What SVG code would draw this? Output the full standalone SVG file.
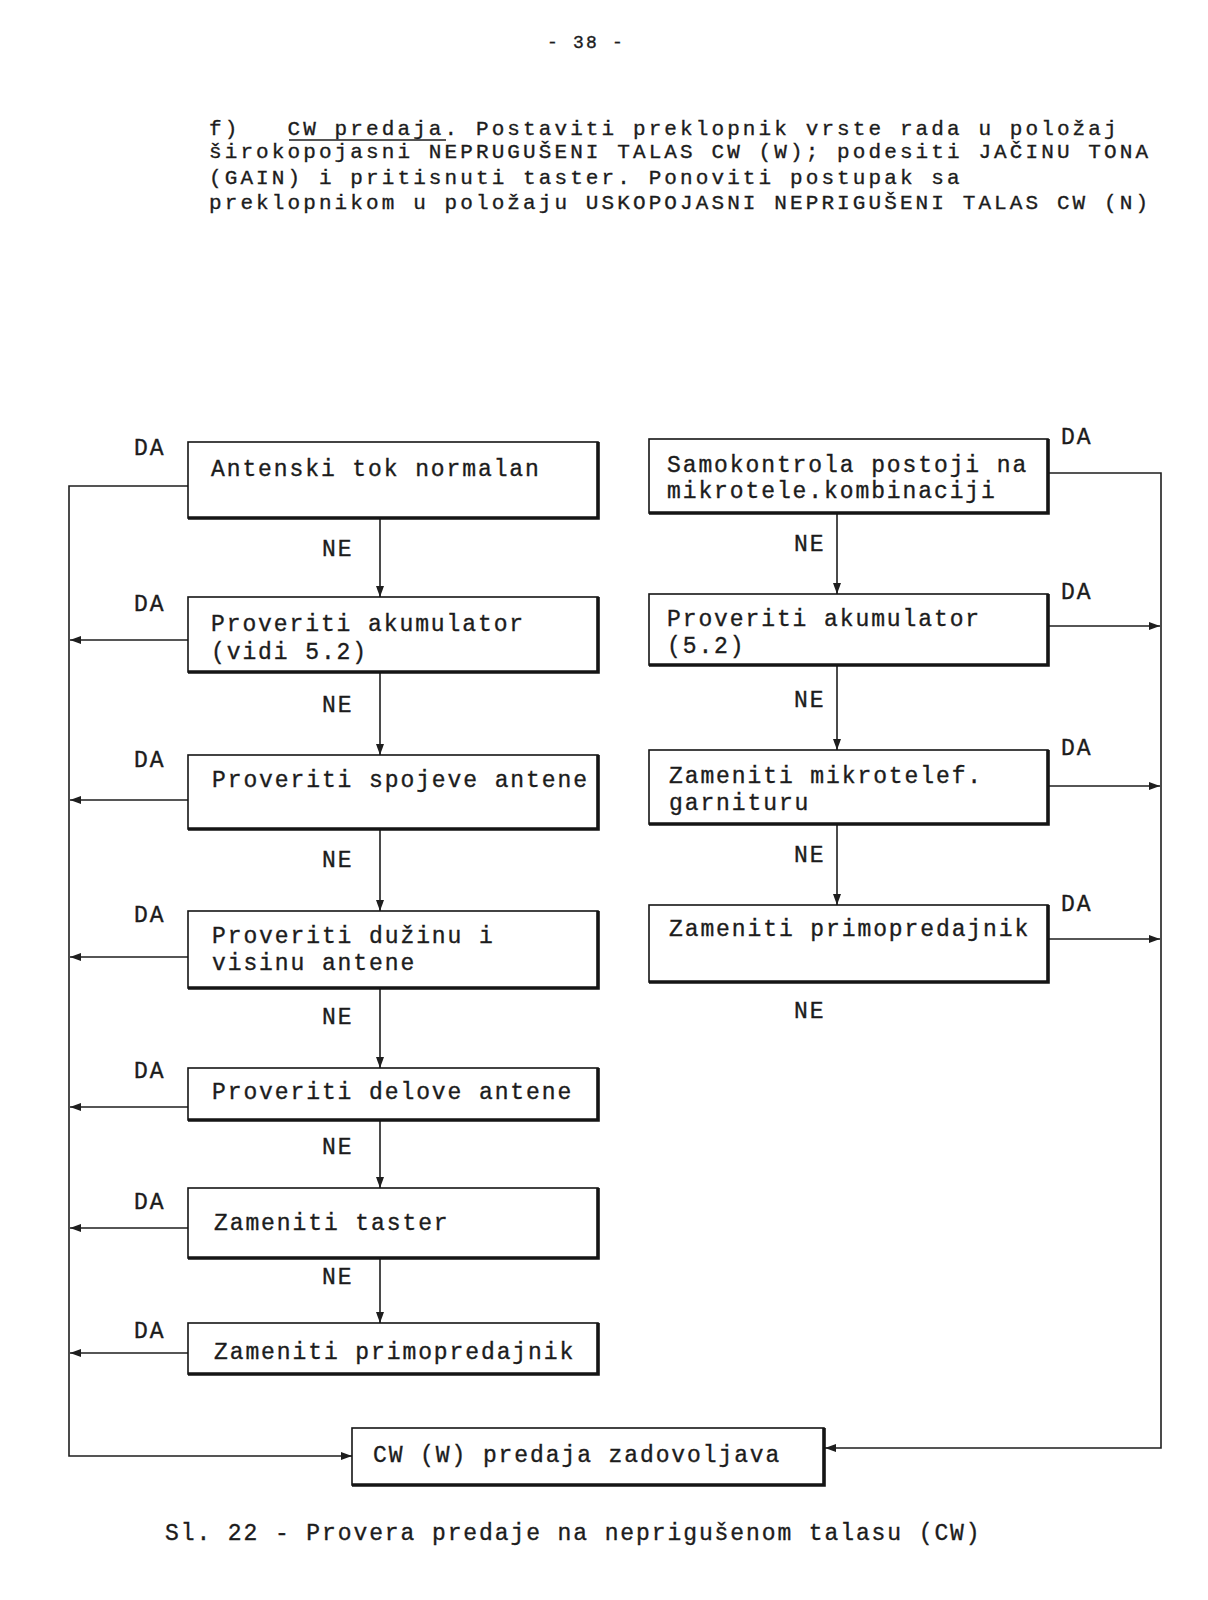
<svg xmlns="http://www.w3.org/2000/svg" width="1208" height="1600" viewBox="0 0 1208 1600">
<style>
text{font-family:"Liberation Mono","Courier New",monospace;font-size:23px;letter-spacing:1.9px;fill:#1c1c1c;stroke:#1c1c1c;stroke-width:0.35px;white-space:pre}
.pg{font-size:18px;letter-spacing:2.2px}
.par{font-size:21px;letter-spacing:3.1px}
.box{fill:none;stroke:#151515;stroke-width:1.6}
.heavy{fill:none;stroke:#151515;stroke-width:3.6}
.ln{fill:none;stroke:#1e1e1e;stroke-width:1.6}
.ul{stroke:#1c1c1c;stroke-width:1.4}
</style>
<defs>
<marker id="ah" markerUnits="userSpaceOnUse" markerWidth="12" markerHeight="10" refX="11" refY="4" orient="auto">
<path d="M0,0 L11,4 L0,8 z" fill="#1e1e1e"/>
</marker>
</defs>
<rect width="1208" height="1600" fill="#fff"/>

<text class="pg" x="547" y="48">- 38 -</text>

<g id="paragraph">
<text class="par" x="209" y="135" xml:space="preserve">f)   CW predaja. Postaviti preklopnik vrste rada u položaj</text>
<line class="ul" x1="289" y1="140" x2="446" y2="140"/>
<text class="par" x="209" y="158">širokopojasni NEPRUGUŠENI TALAS CW (W); podesiti JAČINU TONA</text>
<text class="par" x="209" y="184">(GAIN) i pritisnuti taster. Ponoviti postupak sa</text>
<text class="par" x="209" y="209">preklopnikom u položaju USKOPOJASNI NEPRIGUŠENI TALAS CW (N)</text>
</g>

<g id="connectors">
<path class="ln" d="M188,486 H69 V1456 H352" marker-end="url(#ah)"/>
<path class="ln" d="M188,640 H70" marker-end="url(#ah)"/>
<path class="ln" d="M188,800 H70" marker-end="url(#ah)"/>
<path class="ln" d="M188,957 H70" marker-end="url(#ah)"/>
<path class="ln" d="M188,1107 H70" marker-end="url(#ah)"/>
<path class="ln" d="M188,1228 H70" marker-end="url(#ah)"/>
<path class="ln" d="M188,1353 H70" marker-end="url(#ah)"/>
<path class="ln" d="M380,518 V597" marker-end="url(#ah)"/>
<path class="ln" d="M380,672 V755" marker-end="url(#ah)"/>
<path class="ln" d="M380,829 V911" marker-end="url(#ah)"/>
<path class="ln" d="M380,988 V1068" marker-end="url(#ah)"/>
<path class="ln" d="M380,1120 V1188" marker-end="url(#ah)"/>
<path class="ln" d="M380,1258 V1323" marker-end="url(#ah)"/>
<path class="ln" d="M1048,473 H1161 V1448 H825" marker-end="url(#ah)"/>
<path class="ln" d="M1048,626 H1160" marker-end="url(#ah)"/>
<path class="ln" d="M1048,786 H1160" marker-end="url(#ah)"/>
<path class="ln" d="M1048,939 H1160" marker-end="url(#ah)"/>
<path class="ln" d="M837,513 V594" marker-end="url(#ah)"/>
<path class="ln" d="M837,665 V750" marker-end="url(#ah)"/>
<path class="ln" d="M837,824 V905" marker-end="url(#ah)"/>
</g>

<g id="labels">
<text x="134" y="455">DA</text>
<text x="134" y="611">DA</text>
<text x="134" y="767">DA</text>
<text x="134" y="922">DA</text>
<text x="134" y="1078">DA</text>
<text x="134" y="1209">DA</text>
<text x="134" y="1338">DA</text>
<text x="322" y="556">NE</text>
<text x="322" y="712">NE</text>
<text x="322" y="867">NE</text>
<text x="322" y="1024">NE</text>
<text x="322" y="1154">NE</text>
<text x="322" y="1284">NE</text>
<text x="1061" y="444">DA</text>
<text x="1061" y="599">DA</text>
<text x="1061" y="755">DA</text>
<text x="1061" y="911">DA</text>
<text x="794" y="551">NE</text>
<text x="794" y="707">NE</text>
<text x="794" y="862">NE</text>
<text x="794" y="1018">NE</text>
</g>

<g id="n1"><rect class="box" x="188" y="442" width="410" height="76"/><path class="heavy" d="M598,442 V518 H188"/><text x="211" y="476">Antenski tok normalan</text></g>
<g id="n2"><rect class="box" x="188" y="597" width="410" height="75"/><path class="heavy" d="M598,597 V672 H188"/><text x="211" y="631">Proveriti akumulator</text><text x="211" y="659">(vidi 5.2)</text></g>
<g id="n3"><rect class="box" x="188" y="755" width="410" height="74"/><path class="heavy" d="M598,755 V829 H188"/><text x="212" y="787">Proveriti spojeve antene</text></g>
<g id="n4"><rect class="box" x="188" y="911" width="410" height="77"/><path class="heavy" d="M598,911 V988 H188"/><text x="212" y="943">Proveriti dužinu i</text><text x="212" y="970">visinu antene</text></g>
<g id="n5"><rect class="box" x="188" y="1068" width="410" height="52"/><path class="heavy" d="M598,1068 V1120 H188"/><text x="212" y="1099">Proveriti delove antene</text></g>
<g id="n6"><rect class="box" x="188" y="1188" width="410" height="70"/><path class="heavy" d="M598,1188 V1258 H188"/><text x="214" y="1230">Zameniti taster</text></g>
<g id="n7"><rect class="box" x="188" y="1323" width="410" height="51"/><path class="heavy" d="M598,1323 V1374 H188"/><text x="214" y="1359">Zameniti primopredajnik</text></g>

<g id="r1"><rect class="box" x="649" y="439" width="399" height="74"/><path class="heavy" d="M1048,439 V513 H649"/><text x="667" y="472">Samokontrola postoji na</text><text x="667" y="498">mikrotele.kombinaciji</text></g>
<g id="r2"><rect class="box" x="649" y="594" width="399" height="71"/><path class="heavy" d="M1048,594 V665 H649"/><text x="667" y="626">Proveriti akumulator</text><text x="667" y="653">(5.2)</text></g>
<g id="r3"><rect class="box" x="649" y="750" width="399" height="74"/><path class="heavy" d="M1048,750 V824 H649"/><text x="669" y="783">Zameniti mikrotelef.</text><text x="669" y="810">garnituru</text></g>
<g id="r4"><rect class="box" x="649" y="905" width="399" height="77"/><path class="heavy" d="M1048,905 V982 H649"/><text x="669" y="936">Zameniti primopredajnik</text></g>

<g id="end"><rect class="box" x="352" y="1428" width="472" height="57"/><path class="heavy" d="M824,1428 V1485 H352"/><text x="373" y="1462">CW (W) predaja zadovoljava</text></g>

<text x="165" y="1540">Sl. 22 - Provera predaje na neprigušenom talasu (CW)</text>
</svg>
